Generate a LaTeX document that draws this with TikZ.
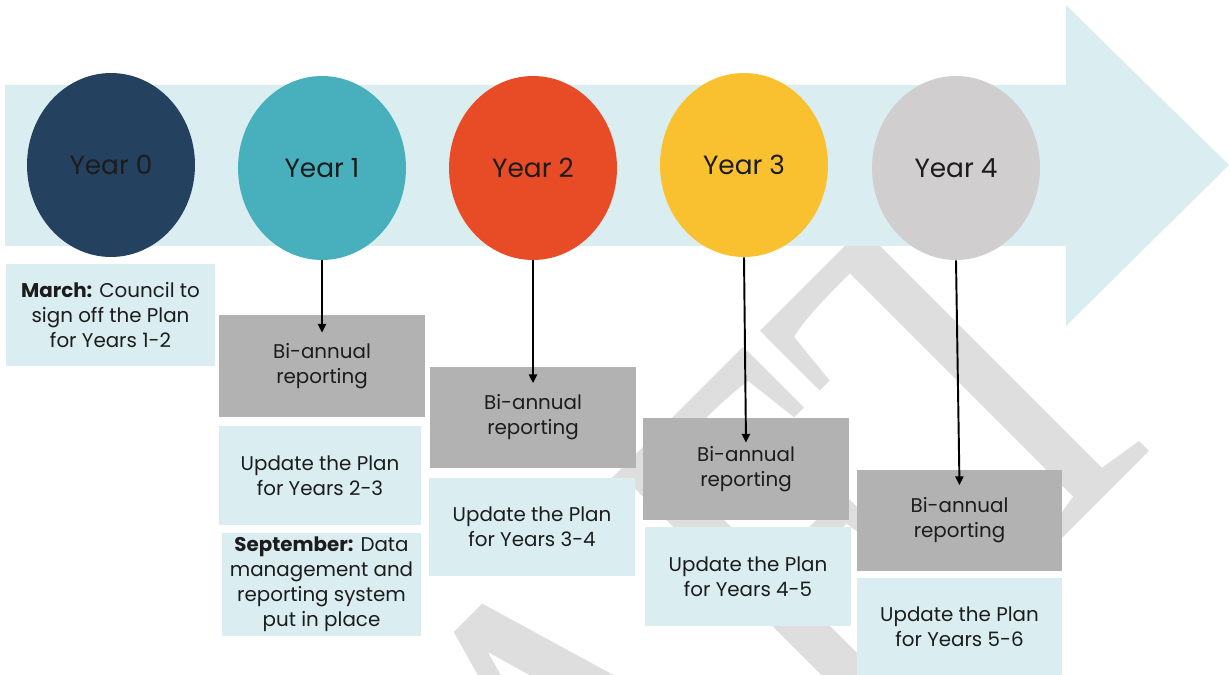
\documentclass[tikz,border=0pt]{standalone}
\usepackage{fontspec}
\setmainfont{Poppins}
\newfontfamily\wmfont{Liberation Serif}
\usetikzlibrary{shapes.geometric,arrows.meta}

\definecolor{bandblue}{HTML}{DAEEF1}
\definecolor{yrnavy}{HTML}{24415F}
\definecolor{yrteal}{HTML}{48AFBC}
\definecolor{yrred}{HTML}{E84C27}
\definecolor{yryellow}{HTML}{F9C12F}
\definecolor{yrgrey}{HTML}{D0CECF}
\definecolor{boxgrey}{HTML}{B2B2B2}
\definecolor{wmgrey}{HTML}{DEDEDE}
\definecolor{ink}{HTML}{1C1C1C}

\newcommand\boxfont{\fontsize{11.3}{14.2}\selectfont}

\begin{document}
\begin{tikzpicture}[x=0.02cm,y=-0.02cm,
    year/.style={ellipse,minimum width=3.36cm,minimum height=3.68cm,inner sep=0pt,
        text=ink,font=\fontsize{15}{18}\selectfont},
    greybox/.style={fill=boxgrey,minimum width=4.12cm,minimum height=2.04cm,
        inner sep=0pt,align=center,text=ink,font=\boxfont},
    planbox/.style={fill=bandblue,minimum width=4.04cm,minimum height=1.98cm,
        inner sep=0pt,align=center,text=ink,font=\boxfont},
    link/.style={line width=1.1pt,-{Triangle[length=5pt,width=4.6pt]}}]
    \useasboundingbox (0,0) rectangle (1230,675);
    % watermark
    \begin{scope}
        \clip (0,0) rectangle (1230,675);
        \node [rotate=45,xscale=0.79,anchor=base east,inner sep=0pt,text=wmgrey,
            font=\wmfont\fontsize{313}{313}\selectfont] (wm) at (1197,403) {DRAFT};
    \end{scope}
    % timeline arrow
    \fill [bandblue] (5,85) -- (1066,85) -- (1066,5) -- (1229,165) -- (1066,326)
        -- (1066,246) -- (5,246) -- cycle;
    % years
    \node [year,fill=yrnavy] (y0) at (111,165) {Year 0};
    \node [year,fill=yrteal] (y1) at (322,168) {Year 1};
    \node [year,fill=yrred] (y2) at (533,168) {Year 2};
    \node [year,fill=yryellow] (y3) at (744,165) {Year 3};
    \node [year,fill=yrgrey] (y4) at (956,168) {Year 4};
    % year 0
    \node [planbox,minimum width=4.18cm,minimum height=2.04cm] (m0) at (110.5,315)
        {\textbf{March:} Council to\\sign off the Plan\\for Years 1-2};
    % year 1
    \node [greybox] (g1) at (322,366) {Bi-annual\\reporting};
    \node [planbox] (u1) at (320,475.5) {Update the Plan\\for Years 2-3};
    \node [planbox,minimum width=3.98cm,minimum height=2.06cm] (s1) at (321.5,584.5)
        {\textbf{September:} Data\\management and\\reporting system\\put in place};
    % year 2
    \node [greybox] (g2) at (533,417.5) {Bi-annual\\reporting};
    \node [planbox,minimum width=4.12cm] (u2) at (532,527) {Update the Plan\\for Years 3-4};
    % year 3
    \node [greybox] (g3) at (746,469) {Bi-annual\\reporting};
    \node [planbox,minimum width=4.12cm] (u3) at (748,576.5) {Update the Plan\\for Years 4-5};
    % year 4
    \node [greybox,minimum width=4.1cm] (g4) at (959.5,520.5) {Bi-annual\\reporting};
    \node [planbox,minimum width=4.1cm,minimum height=1.94cm] (u4) at (959.5,626.5)
        {Update the Plan\\for Years 5-6};
    % links
    \draw [link] (y1.south) -- ([yshift=-0.36cm]g1.north);
    \draw [link] (y2.south) -- ([yshift=-0.34cm]g2.north);
    \draw [link] (y3.south) -- ([yshift=-0.5cm]g3.north);
    \draw [link] (y4.south) -- ([yshift=-0.32cm]g4.north);
\end{tikzpicture}
\end{document}
